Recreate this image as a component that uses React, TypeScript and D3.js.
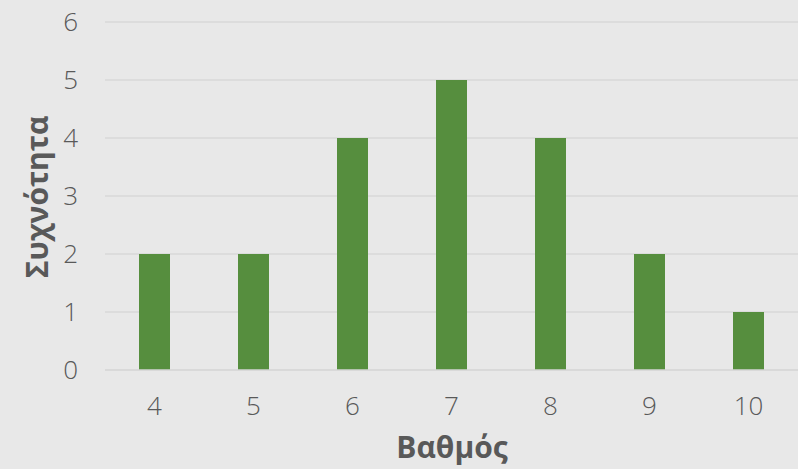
import React, { useEffect, useRef } from 'react';
import * as d3 from 'd3';

const grades = ['4', '5', '6', '7', '8', '9', '10'];
const counts = [2, 2, 4, 5, 4, 2, 1];
const yTicks = [0, 1, 2, 3, 4, 5, 6];

const W = 798;
const H = 469;

export default function App() {
  const ref = useRef<SVGSVGElement | null>(null);

  useEffect(() => {
    if (!ref.current) return;
    const svg = d3.select(ref.current);
    svg.selectAll('*').remove();

    const font = "'Open Sans', 'DejaVu Sans', sans-serif";
    const textColor = '#595959';

    svg.append('rect').attr('width', W).attr('height', H).attr('fill', '#e8e8e8');

    const x = d3.scaleBand<string>().domain(grades).range([105, 798]).paddingInner(0.687).paddingOuter(0.3435);
    const y = d3.scaleLinear().domain([0, 6]).range([370, 22]);

    // gridlines
    svg.append('g')
      .selectAll('line')
      .data(yTicks.filter(t => t > 0))
      .enter().append('line')
      .attr('x1', 105).attr('x2', 798)
      .attr('y1', d => y(d)).attr('y2', d => y(d))
      .attr('stroke', '#d9d9d9').attr('stroke-width', 1.5);

    // bars
    svg.append('g')
      .selectAll('rect')
      .data(counts)
      .enter().append('rect')
      .attr('x', (d, i) => x(grades[i]) as number)
      .attr('width', x.bandwidth())
      .attr('y', d => y(d))
      .attr('height', d => y(0) - y(d))
      .attr('fill', '#568e3e');

    // baseline
    svg.append('line')
      .attr('x1', 105).attr('x2', 798)
      .attr('y1', y(0)).attr('y2', y(0))
      .attr('stroke', '#d4d4d4').attr('stroke-width', 1.5);

    // y tick labels
    svg.append('g')
      .selectAll('text')
      .data(yTicks)
      .enter().append('text')
      .attr('x', 78)
      .attr('y', d => y(d))
      .attr('dy', '0.36em')
      .attr('text-anchor', 'end')
      .attr('font-family', font)
      .attr('font-size', 26)
      .attr('font-weight', 300)
      .attr('fill', textColor)
      .text(d => d);

    // x tick labels
    svg.append('g')
      .selectAll('text')
      .data(grades)
      .enter().append('text')
      .attr('x', d => (x(d) as number) + x.bandwidth() / 2)
      .attr('y', 415)
      .attr('text-anchor', 'middle')
      .attr('font-family', font)
      .attr('font-size', 26)
      .attr('font-weight', 300)
      .attr('fill', textColor)
      .text(d => d);

    // axis titles
    svg.append('text')
      .attr('x', 452)
      .attr('y', 458)
      .attr('text-anchor', 'middle')
      .attr('font-family', font)
      .attr('font-size', 30)
      .attr('font-weight', 'bold')
      .attr('fill', textColor)
      .text('Βαθμός');

    svg.append('text')
      .attr('transform', `translate(48, 197) rotate(-90)`)
      .attr('text-anchor', 'middle')
      .attr('font-family', font)
      .attr('font-size', 30)
      .attr('font-weight', 'bold')
      .attr('fill', textColor)
      .text('Συχνότητα');
  }, []);

  return <svg ref={ref} width={W} height={H} style={{ display: 'block', position: 'absolute', top: 0, left: 0 }} />;
}
